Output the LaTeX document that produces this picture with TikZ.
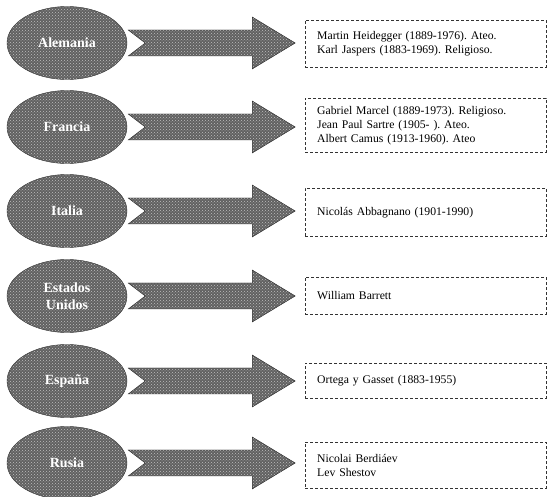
\documentclass[tikz,border=0pt]{standalone}
\usepackage{fontspec}
\setmainfont{Liberation Serif}
\usepackage{tikz}
\usetikzlibrary{shapes, patterns}
\frenchspacing

\begin{document}
\begin{tikzpicture}[x=1pt, y=-1pt,
  pais/.style={ellipse, draw=black!80, minimum width=120, minimum height=73, inner sep=0pt,
    preaction={fill=black!62}, pattern=crosshatch dots, pattern color=white!75!black,
    text=white, font=\bfseries\fontsize{14}{17}\selectfont, align=center},
  flecha/.style={draw=black!85, preaction={fill=black!62}, pattern=crosshatch dots, pattern color=white!75!black},
  caja/.style={draw=black!80, densely dashed, anchor=north west, minimum width=241, inner xsep=12pt,
    text width=217, align=left, font=\fontsize{11.7}{14}\selectfont}]
\useasboundingbox (0,0) rectangle (547,497);
% paises
\node[pais] (al) at (67,43) {Alemania};
\node[pais] (fr) at (67,127) {Francia};
\node[pais] (it) at (67,211) {Italia};
\node[pais] (eu) at (67,296) {Estados\\Unidos};
\node[pais] (es) at (67,381) {España};
\node[pais] (ru) at (67,463) {Rusia};
% autores
\node[caja, minimum height=47] (alc) at (305,20) {Martin Heidegger (1889-1976). Ateo.\\Karl Jaspers (1883-1969). Religioso.};
\node[caja, minimum height=54] (frc) at (305,98) {Gabriel Marcel (1889-1973). Religioso.\\Jean Paul Sartre (1905- ). Ateo.\\Albert Camus (1913-1960). Ateo};
\node[caja, minimum height=48] (itc) at (305,188) {Nicolás Abbagnano (1901-1990)};
\node[caja, minimum height=37] (euc) at (305,277) {William Barrett};
\node[caja, minimum height=35] (esc) at (305,363) {Ortega y Gasset (1883-1955)};
\node[caja, minimum height=46] (ruc) at (305,442) {Nicolai Berdiáev\\Lev Shestov};
% flechas
\draw[flecha] (al.east) ++(1,-13) -- ++(124,0) -- ++(0,-13) -- ++(43,26) -- ++(-43,26) -- ++(0,-13) -- ++(-124,0) -- ++(17,-13) -- cycle;
\draw[flecha] (fr.east) ++(1,-13) -- ++(124,0) -- ++(0,-13) -- ++(43,26) -- ++(-43,26) -- ++(0,-13) -- ++(-124,0) -- ++(17,-13) -- cycle;
\draw[flecha] (it.east) ++(1,-13) -- ++(124,0) -- ++(0,-13) -- ++(43,26) -- ++(-43,26) -- ++(0,-13) -- ++(-124,0) -- ++(17,-13) -- cycle;
\draw[flecha] (eu.east) ++(1,-13) -- ++(124,0) -- ++(0,-13) -- ++(43,26) -- ++(-43,26) -- ++(0,-13) -- ++(-124,0) -- ++(17,-13) -- cycle;
\draw[flecha] (es.east) ++(1,-13) -- ++(124,0) -- ++(0,-13) -- ++(43,26) -- ++(-43,26) -- ++(0,-13) -- ++(-124,0) -- ++(17,-13) -- cycle;
\draw[flecha] (ru.east) ++(1,-13) -- ++(124,0) -- ++(0,-13) -- ++(43,26) -- ++(-43,26) -- ++(0,-13) -- ++(-124,0) -- ++(17,-13) -- cycle;
\end{tikzpicture}
\end{document}
